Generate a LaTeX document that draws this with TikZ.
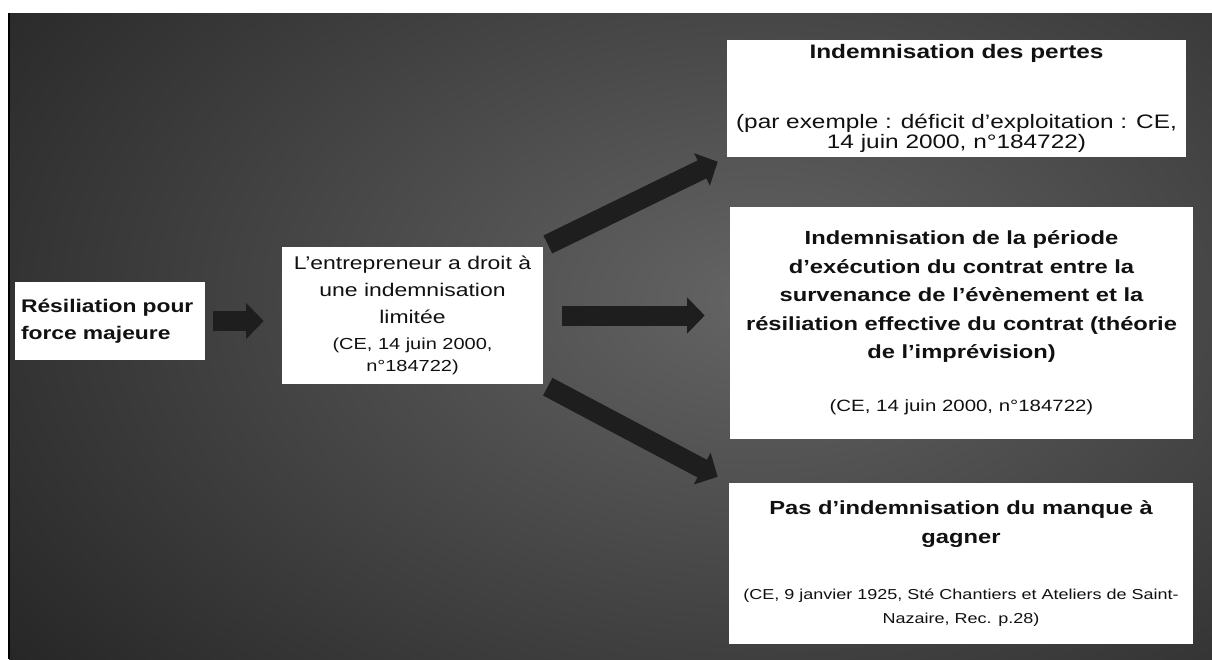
\documentclass[tikz,border=0pt]{standalone}
\usepackage{fontspec}
\setmainfont{Liberation Sans}[FakeStretch=1.25]
\usetikzlibrary{arrows.meta}
\definecolor{bgdark}{HTML}{262626}
\definecolor{bglight}{HTML}{646464}
\definecolor{arrowc}{HTML}{1E1E1E}
\definecolor{ink}{HTML}{111111}
\begin{document}
\begin{tikzpicture}[x=0.02cm,y=-0.02cm,
  box/.style={fill=white, inner sep=0pt, text=ink},
  flow/.style={draw=arrowc, line width=0.4cm, -{Triangle[length=0.35cm,width=0.7cm]}}]
\useasboundingbox (0,0) rectangle (1212,659);
\fill[white] (0,0) rectangle (1212,659);
\begin{scope}
  \clip (9,13) rectangle (1212,659);
  \shade[inner color=bglight, outer color=bgdark] (760,300) ellipse [x radius=19cm, y radius=12cm];
\end{scope}
\draw[black, line width=0.6pt] (9,13) -- (9,659);

% boxes
\node[box, minimum width=3.8cm, minimum height=1.56cm, text width=3.56cm, align=left,
      font=\bfseries\fontsize{10.4}{15.4}\selectfont] (start) at (110,321)
  {Résiliation pour\\force majeure};

\node[box, minimum width=5.22cm, minimum height=2.74cm, align=center,
      font=\fontsize{10.45}{15.2}\selectfont] (mid) at (412.5,315.5)
  {L’entrepreneur a droit à\\une indemnisation\\limitée\\[-0.4pt]
   {\fontsize{9.1}{12}\selectfont (CE, 14 juin 2000,}\\[-2.7pt]
   {\fontsize{9.1}{12}\selectfont n°184722)}};

\node[box, minimum width=9.18cm, minimum height=2.34cm, align=center,
      font=\fontsize{11.1}{11.4}\selectfont] (b1) at (956.5,98.5)
  {{\bfseries Indemnisation des pertes}\\[28.4pt]
   (par exemple : déficit d’exploitation : CE,\\
   14 juin 2000, n°184722)};

\node[box, minimum width=9.26cm, minimum height=4.64cm, align=center,
      font=\fontsize{10.8}{16.2}\selectfont] (b2) at (961.5,323)
  {{\bfseries Indemnisation de la période}\\
   {\bfseries d’exécution du contrat entre la}\\
   {\bfseries survenance de l’évènement et la}\\
   {\bfseries résiliation effective du contrat (théorie}\\
   {\bfseries de l’imprévision)}\\[14pt]
   {\fontsize{9.3}{12}\selectfont (CE, 14 juin 2000, n°184722)}};

\node[box, minimum width=9.28cm, minimum height=3.22cm, align=center,
      font=\fontsize{10.8}{16}\selectfont] (b3) at (961,563.5)
  {{\bfseries Pas d’indemnisation du manque à}\\
   {\bfseries gagner}\\[16.4pt]
   {\fontsize{8.2}{11}\selectfont (CE, 9 janvier 1925, Sté Chantiers et Ateliers de Saint-}\\[-2.9pt]
   {\fontsize{8.2}{11}\selectfont Nazaire, Rec. p.28)}};

% connectors
\draw[flow, shorten <=0.16cm, shorten >=0.36cm] (start.east) -- (start.east -| mid.west);
\draw[flow, shorten <=0.38cm, shorten >=0.5cm] (mid.east) -- (mid.east -| b2.west);
\draw[flow, shorten <=0.1cm, shorten >=0.2cm] (mid.north east) -- (b1.south west);
\draw[flow, shorten <=0.1cm, shorten >=0.25cm] (mid.south east) -- (b3.north west);
\end{tikzpicture}
\end{document}
